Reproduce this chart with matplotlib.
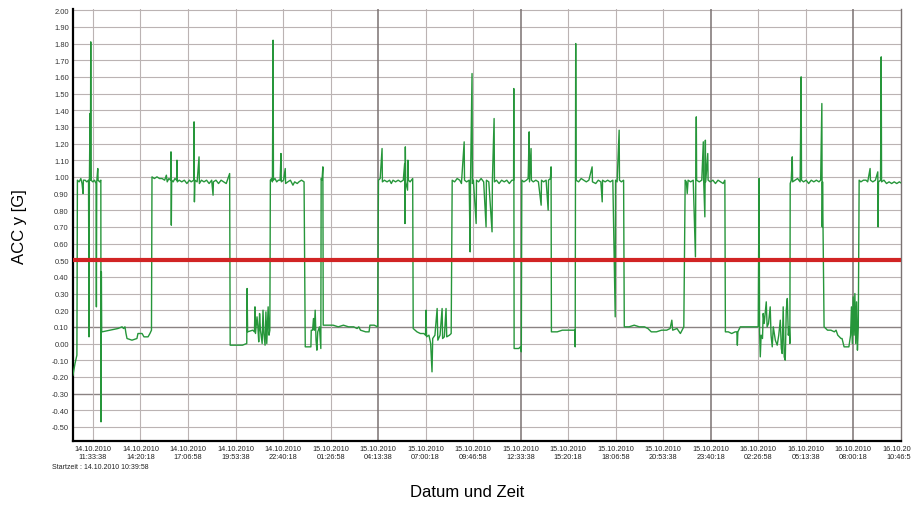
import numpy as np
import matplotlib.pyplot as plt

plt.rcParams['font.family'] = ['Liberation Sans', 'DejaVu Sans']

# time in hours after 14.10.2010 00:00, ACC y in G
seg_a = [(10.39, -0.19), (10.51, -0.12), (10.62, -0.07), (10.65, 0.98), (10.75, 0.97), (10.85, 0.99),
         (10.92, 0.96), (10.98, 0.90), (11.0, 0.98), (11.1, 0.98), (11.2, 0.97), (11.30, 0.98), (11.33, 0.04),
         (11.35, 0.97), (11.39, 1.38), (11.41, 0.98), (11.43, 1.81), (11.45, 0.98), (11.55, 0.97), (11.65, 0.98),
         (11.74, 0.96), (11.76, 0.22), (11.78, 0.97), (11.84, 1.05), (11.86, 0.98), (11.95, 0.97), (12.02, 0.98),
         (12.03, -0.47), (12.05, 0.43), (12.07, 0.07), (12.09, 0.07), (12.55, 0.08), (13.02, 0.09), (13.26, 0.10),
         (13.35, 0.09), (13.43, 0.10), (13.49, 0.06), (13.55, 0.03), (13.84, 0.02), (14.13, 0.03), (14.19, 0.06),
         (14.43, 0.06), (14.54, 0.04), (14.78, 0.04), (14.89, 0.06), (14.98, 0.08),
         (15.01, 1.00), (15.15, 0.99), (15.3, 1.00), (15.45, 0.99), (15.6, 0.99), (15.75, 0.98), (15.85, 1.01),
         (15.9, 0.97), (16.0, 0.99), (16.1, 0.98), (16.12, 1.15), (16.14, 0.71), (16.16, 0.98), (16.25, 0.97),
         (16.35, 0.99), (16.45, 0.98), (16.47, 1.10), (16.49, 0.97), (16.6, 0.98), (16.75, 0.97), (16.9, 0.98),
         (17.05, 0.96), (17.2, 0.98), (17.3, 0.97), (17.45, 0.98), (17.47, 1.33), (17.49, 0.85), (17.52, 0.98),
         (17.65, 0.97), (17.76, 1.12), (17.78, 0.96), (17.9, 0.98), (18.05, 0.97), (18.2, 0.98), (18.35, 0.96),
         (18.5, 0.98), (18.58, 0.89), (18.6, 0.97), (18.75, 0.98), (18.9, 0.96), (19.05, 0.98), (19.2, 0.97),
         (19.35, 0.96), (19.45, 0.99), (19.55, 1.02)]

seg_b = [(19.58, -0.01), (20.0, -0.01), (20.3, -0.01), (20.55, 0.0), (20.57, 0.33), (20.6, 0.07), (20.9, 0.08),
         (21.0, 0.07), (21.03, 0.22), (21.06, 0.06), (21.15, 0.16), (21.2, 0.10), (21.25, 0.01), (21.3, 0.18),
         (21.35, 0.08), (21.45, 0.0), (21.5, 0.20), (21.55, 0.06), (21.62, -0.01), (21.67, 0.19), (21.72, 0.0),
         (21.8, 0.22), (21.85, 0.05), (21.9, 0.08),
         (21.93, 0.98), (22.0, 0.99), (22.05, 0.97), (22.09, 1.82), (22.11, 0.98), (22.2, 0.99), (22.3, 0.97),
         (22.4, 0.98), (22.5, 0.98), (22.55, 1.14), (22.57, 0.97), (22.7, 0.98), (22.8, 1.05), (22.82, 0.96),
         (22.95, 0.97), (23.1, 0.98), (23.25, 0.95), (23.35, 0.97), (23.5, 0.96), (23.6, 0.97), (23.75, 0.98),
         (23.9, 0.97),
         (23.97, -0.02), (24.1, -0.02), (24.3, -0.02), (24.32, 0.08), (24.4, 0.08), (24.45, 0.15), (24.5, 0.08),
         (24.55, 0.20), (24.6, 0.02), (24.65, -0.04), (24.7, 0.07), (24.8, 0.10), (24.88, -0.03), (24.9, 0.99),
         (24.95, 0.98), (25.0, 1.06), (25.02, 0.11),
         (25.3, 0.11), (25.6, 0.11), (25.9, 0.10), (26.2, 0.11), (26.5, 0.10), (26.8, 0.10), (27.0, 0.09),
         (27.1, 0.10), (27.2, 0.08), (27.5, 0.07), (27.7, 0.07), (27.75, 0.11), (28.0, 0.11), (28.2, 0.10),
         (28.25, 0.98), (28.35, 0.99), (28.46, 1.17), (28.48, 0.97), (28.6, 0.98), (28.75, 0.97), (28.9, 0.98),
         (29.0, 0.96), (29.1, 0.98), (29.25, 0.97), (29.4, 0.98), (29.55, 0.97), (29.7, 0.98), (29.78, 1.08),
         (29.8, 0.72), (29.82, 1.18), (29.84, 0.97), (29.95, 0.92), (29.97, 1.10), (30.0, 0.98), (30.1, 0.97),
         (30.25, 0.99)]

seg_c = [(30.28, 0.09), (30.5, 0.07), (30.7, 0.06), (30.9, 0.06), (31.0, 0.05), (31.03, 0.20), (31.06, 0.04),
         (31.2, 0.05), (31.3, 0.0), (31.38, -0.17), (31.42, 0.03), (31.55, 0.05), (31.68, 0.21), (31.72, 0.02),
         (31.85, 0.05), (31.97, 0.21), (32.0, 0.03), (32.1, 0.04), (32.2, 0.21), (32.24, 0.04), (32.4, 0.05),
         (32.5, 0.06),
         (32.56, 0.98), (32.7, 0.97), (32.85, 0.99), (33.0, 0.98), (33.1, 0.96), (33.26, 1.21), (33.28, 0.98),
         (33.4, 0.97), (33.55, 0.98), (33.61, 0.55), (33.63, 0.97), (33.72, 1.62), (33.74, 0.96), (33.8, 0.98),
         (33.96, 0.72), (33.98, 0.98), (34.1, 0.97), (34.25, 0.99), (34.4, 0.97), (34.54, 0.70), (34.56, 0.98),
         (34.7, 0.97), (34.89, 0.67), (34.91, 0.98), (35.01, 1.35), (35.03, 0.97), (35.15, 0.98), (35.3, 0.96),
         (35.45, 0.98), (35.6, 0.97), (35.75, 0.98), (35.9, 0.96), (36.05, 0.98), (36.15, 0.98), (36.16, 1.53),
         (36.18, -0.03), (36.3, -0.03), (36.45, -0.03), (36.55, -0.02), (36.6, -0.05),
         (36.63, 0.98), (36.75, 0.97), (36.9, 0.98), (37.0, 0.99), (37.06, 1.27), (37.08, 0.97), (37.17, 1.17),
         (37.19, 0.98), (37.3, 0.97), (37.45, 0.98), (37.6, 0.97), (37.76, 0.83), (37.78, 0.98), (37.9, 0.97),
         (38.05, 0.98), (38.17, 0.80), (38.19, 0.98), (38.3, 0.99), (38.34, 1.06),
         (38.36, 0.07), (38.7, 0.07), (39.0, 0.08), (39.3, 0.08), (39.6, 0.08), (39.72, 0.08), (39.75, -0.02),
         (39.78, 1.80), (39.8, 0.98), (39.95, 0.97), (40.1, 0.99), (40.25, 0.98), (40.4, 0.97), (40.55, 0.98),
         (40.74, 1.06), (40.76, 0.97), (40.95, 0.96), (41.1, 0.98), (41.25, 0.97), (41.33, 0.85), (41.35, 0.98),
         (41.5, 0.97), (41.65, 0.98), (41.8, 0.97), (41.95, 0.98), (42.09, 0.16), (42.11, 0.98), (42.2, 0.97),
         (42.32, 1.28), (42.34, 0.98), (42.45, 0.97), (42.58, 0.98)]

seg_d = [(42.62, 0.10), (42.9, 0.10), (43.2, 0.11), (43.5, 0.10), (43.8, 0.10), (44.0, 0.09), (44.2, 0.07),
         (44.5, 0.07), (44.8, 0.08), (45.1, 0.08), (45.3, 0.09), (45.4, 0.14), (45.45, 0.08), (45.7, 0.09),
         (45.9, 0.06), (46.1, 0.10),
         (46.18, 0.98), (46.25, 0.97), (46.3, 0.90), (46.35, 0.98), (46.5, 0.97), (46.65, 0.98), (46.78, 0.52),
         (46.8, 0.98), (46.83, 1.36), (46.85, 0.98), (47.0, 0.97), (47.15, 0.98), (47.24, 1.21), (47.26, 0.98),
         (47.33, 0.76), (47.36, 1.22), (47.38, 0.97), (47.5, 1.14), (47.52, 0.98), (47.65, 0.97), (47.8, 0.98),
         (47.95, 0.96), (48.1, 0.98), (48.25, 0.97), (48.4, 0.96), (48.5, 0.98),
         (48.53, 0.07), (48.7, 0.07), (48.9, 0.06), (49.1, 0.07), (49.2, 0.07), (49.23, -0.01), (49.26, 0.07),
         (49.4, 0.10), (49.7, 0.10), (50.0, 0.10), (50.3, 0.10), (50.45, 0.10), (50.5, 0.99), (50.53, 0.07),
         (50.57, -0.08), (50.62, 0.05), (50.7, 0.03), (50.74, 0.18), (50.8, 0.12), (50.92, 0.25), (50.97, 0.10),
         (51.05, 0.12), (51.15, 0.22), (51.2, 0.05), (51.27, -0.02), (51.33, 0.10), (51.45, 0.02), (51.56, -0.01),
         (51.65, 0.05), (51.74, 0.14), (51.8, -0.03), (51.85, -0.06), (51.91, 0.22), (51.97, -0.08),
         (52.03, -0.10), (52.09, 0.20), (52.15, 0.27), (52.21, 0.05), (52.27, 0.10), (52.3, 0.0)]

seg_e = [(52.32, 0.96), (52.38, 0.98), (52.44, 1.12), (52.46, 0.97), (52.6, 0.98), (52.75, 0.99), (52.9, 0.97),
         (52.96, 1.60), (52.98, 0.98), (53.1, 0.97), (53.25, 0.98), (53.4, 0.96), (53.55, 0.98), (53.7, 0.97),
         (53.85, 0.98), (54.0, 0.97), (54.1, 0.98), (54.17, 1.44), (54.19, 0.70), (54.21, 0.97),
         (54.3, 0.10), (54.5, 0.08), (54.7, 0.08), (54.9, 0.07), (55.0, 0.08), (55.1, 0.05), (55.29, 0.03),
         (55.35, 0.03), (55.47, -0.02), (55.6, -0.02), (55.75, -0.02), (55.85, 0.05), (55.9, 0.22), (55.95, 0.0),
         (56.0, 0.28), (56.05, 0.05), (56.1, 0.30), (56.15, 0.0), (56.2, 0.25), (56.25, -0.04), (56.3, 0.10),
         (56.35, 0.98), (56.45, 0.97), (56.6, 0.98), (56.75, 0.98), (56.85, 0.97), (56.99, 1.05), (57.01, 0.98),
         (57.15, 0.97), (57.3, 0.98), (57.44, 1.03), (57.46, 0.70), (57.48, 0.97), (57.6, 0.98), (57.64, 1.72),
         (57.66, 0.97), (57.8, 0.98), (57.95, 0.96), (58.1, 0.97), (58.25, 0.96), (58.4, 0.97), (58.55, 0.96),
         (58.7, 0.97), (58.85, 0.96)]

threshold = 0.50

tick_dates = ['14.10.2010'] * 5 + ['15.10.2010'] * 9 + ['16.10.2010'] * 4
tick_times = ['11:33:38', '14:20:18', '17:06:58', '19:53:38', '22:40:18', '01:26:58', '04:13:38',
              '07:00:18', '09:46:58', '12:33:38', '15:20:18', '18:06:58', '20:53:38', '23:40:18',
              '02:26:58', '05:13:38', '08:00:18', '10:46:58']
start_text = 'Startzeit : 14.10.2010 10:39:58'

pts = np.array(seg_a + seg_b + seg_c + seg_d + seg_e)
t, acc = pts[:, 0], pts[:, 1]


def hours(d, s):
    day = int(d[:2]) - 14
    hh, mm, ss = (int(v) for v in s.split(':'))
    return day * 24 + hh + mm / 60 + ss / 3600


tick_pos = [hours(d, s) for d, s in zip(tick_dates, tick_times)]
tick_lbl = [d + '\n' + s for d, s in zip(tick_dates, tick_times)]
yt = np.round(np.arange(-0.5, 2.001, 0.1), 2)

fig = plt.figure(figsize=(9.12, 5.10), dpi=100)
ax = fig.add_axes([0.080, 0.133, 0.908, 0.847])

grid_c = '#bbb3b3'
for yv in yt:
    dark = yv in (0.1, -0.3)
    ax.axhline(yv, color='#8a8282' if dark else grid_c, lw=1.0 if dark else 0.8, zorder=1)
for i, xp in enumerate(tick_pos[:-1]):
    dark = i in (6, 9, 13, 16)
    ax.axvline(xp, color='#7a7272' if dark else grid_c, lw=1.1 if dark else 0.8, zorder=1)

ax.plot(t, acc, color='#26963a', lw=1.0, zorder=3)
ax.axhline(threshold, color='#d12424', lw=3, zorder=4)

ax.set_xlim(10.39, 58.80)
ax.set_ylim(-0.586, 2.006)
ax.set_yticks(yt)
ax.set_yticklabels(['%.2f' % abs(v) if v == 0 else '%.2f' % v for v in yt], fontsize=5.4, color='#333333')
ax.set_xticks(tick_pos)
ax.set_xticklabels(tick_lbl, fontsize=5.3, color='#222222', linespacing=1.1)
ax.tick_params(axis='both', length=0, pad=3)

ax.spines['top'].set_visible(False)
ax.spines['right'].set_color('#7a7272')
ax.spines['right'].set_linewidth(1.0)
ax.spines['left'].set_linewidth(1.6)
ax.spines['bottom'].set_linewidth(1.6)

ax.set_ylabel('ACC y [G]', fontsize=12, labelpad=18)
fig.text(0.512, 0.02, 'Datum und Zeit', fontsize=12, ha='center', va='bottom')
fig.text(0.057, 0.083, start_text, fontsize=5.0, color='#222222', ha='left', va='center')

fig.savefig('out.png', dpi=100)
